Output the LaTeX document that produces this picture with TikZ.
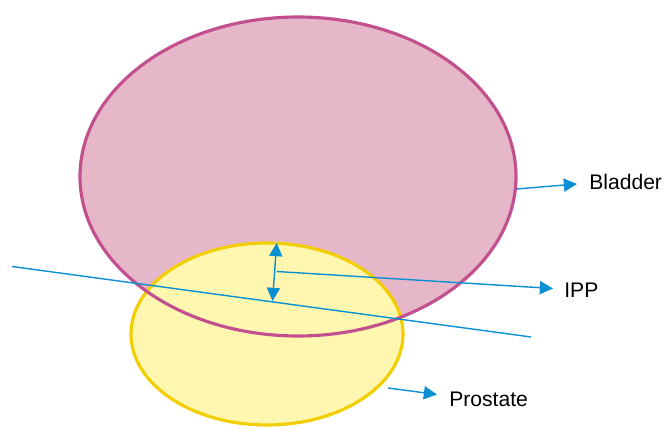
\documentclass[tikz,border=0pt]{standalone}
\usepackage{fontspec}
\setmainfont{Liberation Sans}
\usetikzlibrary{arrows.meta}
\definecolor{bladderfill}{HTML}{E6B7C8}
\definecolor{bladderline}{HTML}{C2508E}
\definecolor{prostfill}{HTML}{FFF7B0}
\definecolor{prostline}{HTML}{F2CE00}
\definecolor{ippblue}{HTML}{0A90D2}
\begin{document}
\begin{tikzpicture}[x=0.02cm, y=-0.02cm, >={Triangle[length=7.5pt, width=7.5pt]},
    lbl/.style={anchor=west, inner sep=0pt, font=\fontsize{12}{14}\selectfont},
    bl/.style={ippblue, line width=0.8pt}]
    \useasboundingbox (0,0) rectangle (664,429);

    % 膀胱 (塗り)
    \fill[bladderfill] (298,176.5) ellipse [x radius=218, y radius=159.5];
    % 前立腺
    \draw[prostline, fill=prostfill, line width=1.8pt] (267,334) ellipse [x radius=136, y radius=91];
    % 膀胱の輪郭
    \draw[bladderline, line width=1.8pt] (298,176.5) ellipse [x radius=218, y radius=159.5];

    % 基準線
    \coordinate (l1) at (12,266.5);
    \coordinate (l2) at (531,337);
    \draw[bl] (l1) -- (l2);

    % IPP の両矢印
    \coordinate (ptop) at (276.7,243);
    \coordinate (pbot) at (272.5,301);
    \draw[bl, <->] (pbot) -- (ptop);

    % ラベル
    \node[lbl] (bladder) at (589,182) {Bladder};
    \node[lbl] (ipp) at (564,290.5) {IPP};
    \node[lbl] (prostate) at (449,399) {Prostate};

    % 引き出し矢印
    \coordinate (bs) at (516.5,189);
    \coordinate (is) at (276.7,271.5);
    \coordinate (ps) at (388,388);
    \draw[bl, ->] (bs) -- (577,184);
    \draw[bl, ->] (is) -- (553,288.5);
    \draw[bl, ->] (ps) -- (437,394.5);
\end{tikzpicture}
\end{document}
